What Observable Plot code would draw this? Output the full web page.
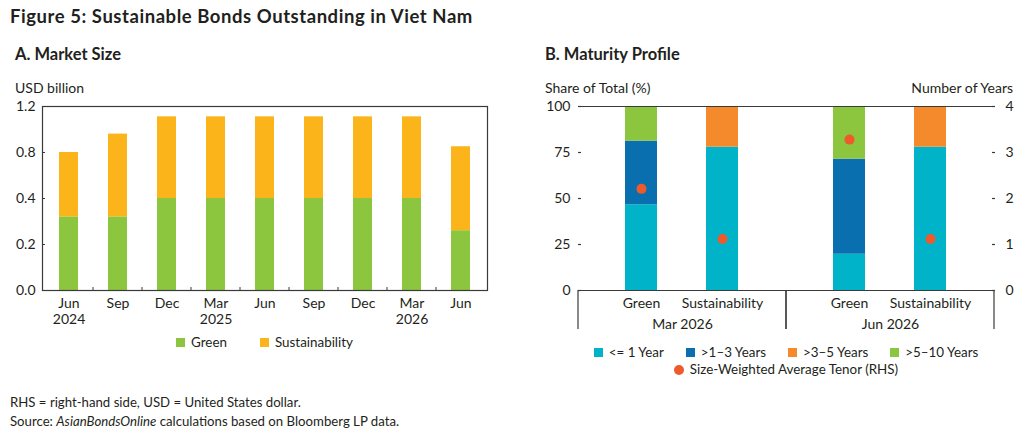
<!DOCTYPE html>
<html>
<head>
<meta charset="utf-8">
<script src="https://cdn.jsdelivr.net/npm/d3@7"></script>
<script src="https://cdn.jsdelivr.net/npm/@observablehq/plot@0.6"></script>
<style>
  body { margin: 0; background: #fff; font-family: Lato, "Noto Sans", sans-serif; color: #231f20; }
  #root { position: relative; width: 1024px; height: 444px; overflow: hidden; background: #fff; }
  .abs { position: absolute; white-space: nowrap; line-height: 1; }
  .title { left: 10px; top: 7px; font-size: 18.5px; font-weight: 700; letter-spacing: 0.55px; }
  .sub { top: 46px; font-size: 16.5px; font-weight: 700; }
  .unit { top: 81px; font-size: 14px; }
  .note { left: 10px; font-size: 13.2px; }
  .chart { position: absolute; top: 80px; }
  .legend { position: absolute; display: flex; justify-content: center; align-items: center; font-size: 13.4px; line-height: 1; white-space: nowrap; }
  .item { display: flex; align-items: center; }
  .sw { width: 9px; height: 9px; margin-right: 6px; display: inline-block; }
  .dotsw { width: 10px; height: 10px; border-radius: 50%; margin-right: 6px; display: inline-block; }
</style>
</head>
<body>
<div id="root">
  <div class="abs title">Figure 5: Sustainable Bonds Outstanding in Viet Nam</div>
  <div class="abs sub" style="left:15px">A. Market Size</div>
  <div class="abs sub" style="left:545px">B. Maturity Profile</div>
  <div class="abs unit" style="left:15px">USD billion</div>
  <div class="abs unit" style="left:545px">Share of Total (%)</div>
  <div class="abs unit" style="right:11px">Number of Years</div>
  <div id="chartA" class="chart" style="left:0px"></div>
  <div id="chartB" class="chart" style="left:530px"></div>
  <div id="legendA" class="legend" style="left:42px; width:445px; top:336px;"></div>
  <div id="legendB1" class="legend" style="left:578px; width:416px; top:346px;"></div>
  <div id="legendB2" class="legend" style="left:578px; width:416px; top:363px;"></div>
  <div class="abs note" style="top:396px">RHS = right-hand side, USD = United States dollar.</div>
  <div class="abs note" style="top:415px">Source: <i>AsianBondsOnline</i> calculations based on Bloomberg LP data.</div>
</div>
<script>
// ---------- Panel A data ----------
const periods = ["Jun 2024","Sep 2024","Dec 2024","Mar 2025","Jun 2025","Sep 2025","Dec 2025","Mar 2026","Jun 2026"];
const periodLabels = ["Jun\n2024","Sep","Dec","Mar\n2025","Jun","Sep","Dec","Mar\n2026","Jun"];
const seriesA = ["Green","Sustainability"];
const greenValues = [0.32,0.32,0.40,0.40,0.40,0.40,0.40,0.40,0.26];
const sustainabilityValues = [0.48,0.64,0.71,0.71,0.71,0.71,0.71,0.71,0.59];
const yTicksA = [0.0,0.2,0.4,0.8,1.2];
const colorsA = ["#8cc63f","#fbb419"];

// ---------- Panel B data ----------
const facetPeriods = ["Mar 2026","Jun 2026"];
const bondPeriods = ["Mar 2026","Mar 2026","Jun 2026","Jun 2026"];
const bondTypes = ["Green","Sustainability","Green","Sustainability"];
const tenorBuckets = ["<= 1 Year", ">1\u20133 Years", ">3\u20135 Years", ">5\u201310 Years"];
const shareUpTo1 = [46.6, 77.9, 19.7, 77.9];
const share1to3  = [34.6, 0.0, 51.7, 0.0];
const share3to5  = [0.0, 22.1, 0.0, 22.1];
const share5to10 = [18.8, 0.0, 28.6, 0.0];
const avgTenor   = [2.21, 1.12, 3.28, 1.12];
const shareTicks = [0,25,50,75,100];
const yearTicks  = [0,1,2,3,4];
const colorsB = ["#00b3c9","#0a6fae","#f58a2c","#8cc63f"];
const tenorColor = "#ee5a2c";
const tenorLabel = "Size-Weighted Average Tenor (RHS)";

const ink = "#231f20";
const lineColor = "#3a3a3a";

// ---------- Panel A ----------
{
  const width = 500, height = 260, mt = 26, mb = 50, ml = 42, mr = 13;
  // the value axis is piecewise: its labelled ticks are evenly spaced
  const piece = d3.scaleLinear().domain(yTicksA).range(d3.range(yTicksA.length));
  const fmt = d3.format(".1f");
  const rows = [];
  periods.forEach((p, i) => {
    rows.push({period: p, series: seriesA[0], value: greenValues[i]});
    rows.push({period: p, series: seriesA[1], value: sustainabilityValues[i]});
  });
  const boundaryTicks = (index, scales) => {
    const {x, y} = scales;
    const g = d3.create("svg:g").attr("stroke", lineColor).attr("stroke-width", 1);
    const gap = (x.step() - x.bandwidth()) / 2;
    const y0 = y.range()[0];
    x.domain().slice(1).forEach(v => {
      const px = x(v) - gap;
      g.append("line").attr("x1", px).attr("x2", px).attr("y1", y0).attr("y2", y0 - 3);
    });
    return g.node();
  };
  const chart = Plot.plot({
    width, height, marginTop: mt, marginBottom: mb, marginLeft: ml, marginRight: mr,
    style: {fontFamily: "Lato, sans-serif", fontSize: "14px", color: ink, background: "transparent"},
    x: {domain: periods, paddingInner: 0.61, paddingOuter: 0.305, axis: null},
    y: {domain: [0, yTicksA.length - 1], transform: piece, axis: null},
    color: {domain: seriesA, range: colorsA},
    marks: [
      Plot.barY(rows, {x: "period", y: "value", fill: "series", order: seriesA}),
      Plot.frame({stroke: lineColor, strokeWidth: 1.2}),
      Plot.axisY({anchor: "left", ticks: yTicksA.map(piece), tickFormat: t => fmt(yTicksA[Math.round(t)]),
        tickSize: -3, tickPadding: 10, stroke: lineColor, fontSize: 14, label: null}),
      Plot.axisX({anchor: "bottom", tickSize: 0, tickPadding: 6, lineHeight: 1.15, fontSize: 14, label: null,
        tickFormat: d => periodLabels[periods.indexOf(d)]}),
      boundaryTicks
    ]
  });
  document.getElementById("chartA").appendChild(chart);

  const leg = document.getElementById("legendA");
  seriesA.forEach((s, i) => {
    const it = document.createElement("div");
    it.className = "item";
    it.style.marginLeft = i ? "33px" : "0";
    it.innerHTML = `<span class="sw" style="background:${colorsA[i]}"></span><span>${s}</span>`;
    leg.appendChild(it);
  });
}

// ---------- Panel B ----------
{
  const width = 494, height = 260, mt = 26, mb = 50, ml = 48, mr = 30;
  const yMax = shareTicks[shareTicks.length - 1];
  const yearsMax = yearTicks[yearTicks.length - 1];
  const toShare = yrs => yrs * yMax / yearsMax;
  const shareArrays = [shareUpTo1, share1to3, share3to5, share5to10];
  const shareRows = [];
  bondPeriods.forEach((p, i) => {
    tenorBuckets.forEach((b, j) => {
      shareRows.push({period: p, type: bondTypes[i], bucket: b, share: shareArrays[j][i]});
    });
  });
  const tenorRows = bondPeriods.map((p, i) => ({period: p, type: bondTypes[i], tenor: avgTenor[i]}));
  const separators = (index, scales) => {
    const {x, y} = scales;
    const [x0, x1] = x.range();
    const y0 = y(0);
    const g = d3.create("svg:g").attr("stroke", lineColor).attr("stroke-width", 1.2);
    [x0, x1].forEach(px => {
      g.append("line").attr("x1", px).attr("x2", px).attr("y1", y0).attr("y2", y0 + 39);
    });
    return g.node();
  };
  const chart = Plot.plot({
    width, height, marginTop: mt, marginBottom: mb, marginLeft: ml, marginRight: mr,
    style: {fontFamily: "Lato, sans-serif", fontSize: "14px", color: ink, background: "transparent"},
    fx: {domain: facetPeriods, padding: 0, axis: null},
    x: {domain: ["Green","Sustainability"], paddingInner: 0.6, paddingOuter: 0.58, axis: null},
    y: {domain: [0, yMax], axis: null},
    color: {domain: tenorBuckets, range: colorsB},
    marks: [
      Plot.barY(shareRows, {fx: "period", x: "type", y: "share", fill: "bucket", order: tenorBuckets}),
      Plot.dot(tenorRows, {fx: "period", x: "type", y: d => toShare(d.tenor), r: 5, fill: tenorColor}),
      Plot.ruleY([0, yMax], {stroke: lineColor, strokeWidth: 1.2}),
      Plot.axisY({anchor: "left", ticks: shareTicks, tickSize: -3, tickPadding: 11, line: true, stroke: lineColor, strokeWidth: 1.2, fontSize: 14, label: null}),
      Plot.axisY({anchor: "right", ticks: yearTicks.map(toShare), tickFormat: d => String(Math.round(d * yearsMax / yMax)), tickSize: -3, tickPadding: 14, line: true, stroke: lineColor, strokeWidth: 1.2, fontSize: 14, label: null}),
      Plot.axisX({anchor: "bottom", tickSize: 0, tickPadding: 8, fontSize: 14, label: null}),
      Plot.axisFx({anchor: "bottom", tickSize: 0, tickPadding: 29, fontSize: 14, label: null}),
      separators
    ]
  });
  document.getElementById("chartB").appendChild(chart);

  const leg1 = document.getElementById("legendB1");
  tenorBuckets.forEach((b, i) => {
    const it = document.createElement("div");
    it.className = "item";
    it.style.marginLeft = i ? "22px" : "0";
    it.innerHTML = `<span class="sw" style="background:${colorsB[i]}"></span><span>${b.replace("<", "&lt;").replace(">", "&gt;")}</span>`;
    leg1.appendChild(it);
  });
  const leg2 = document.getElementById("legendB2");
  const it = document.createElement("div");
  it.className = "item";
  it.innerHTML = `<span class="dotsw" style="background:${tenorColor}"></span><span>${tenorLabel}</span>`;
  leg2.appendChild(it);
}
</script>
</body>
</html>
